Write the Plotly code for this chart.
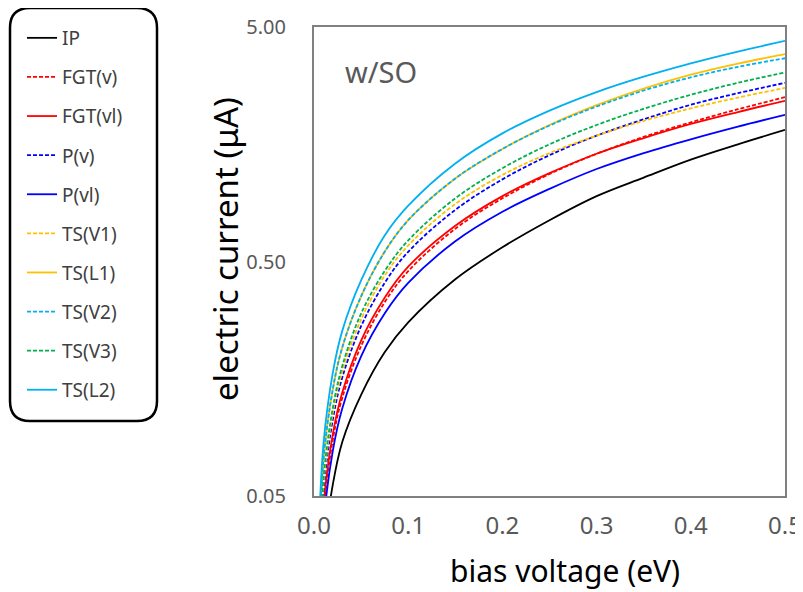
import plotly.graph_objects as go

# bias voltage grid (eV)
V = [0.004, 0.01, 0.02, 0.03, 0.05, 0.075, 0.1, 0.15, 0.2, 0.25, 0.3, 0.35, 0.4, 0.45, 0.5]

# electric current (uA)
IP     = [0.009, 0.028, 0.056, 0.085, 0.135, 0.205, 0.275, 0.42, 0.575, 0.75, 0.95, 1.14, 1.36, 1.58, 1.82]
FGT_v  = [0.013, 0.042, 0.087, 0.131, 0.218, 0.335, 0.455, 0.69, 0.93, 1.18, 1.44, 1.70, 1.96, 2.23, 2.51]
FGT_vl = [0.015, 0.045, 0.092, 0.138, 0.230, 0.350, 0.475, 0.71, 0.95, 1.19, 1.44, 1.68, 1.93, 2.17, 2.42]
P_v    = [0.016, 0.052, 0.106, 0.160, 0.265, 0.405, 0.550, 0.83, 1.12, 1.42, 1.72, 2.02, 2.33, 2.61, 2.89]
P_vl   = [0.012, 0.038, 0.078, 0.118, 0.197, 0.300, 0.405, 0.61, 0.815, 1.02, 1.24, 1.45, 1.66, 1.88, 2.11]
TS_V1  = [0.017, 0.056, 0.113, 0.170, 0.283, 0.435, 0.585, 0.88, 1.17, 1.45, 1.72, 1.99, 2.25, 2.50, 2.75]
TS_L1  = [0.022, 0.071, 0.143, 0.215, 0.355, 0.550, 0.750, 1.13, 1.51, 1.91, 2.32, 2.73, 3.13, 3.49, 3.83]
TS_V2  = [0.022, 0.071, 0.143, 0.215, 0.355, 0.550, 0.750, 1.13, 1.51, 1.90, 2.29, 2.68, 3.05, 3.38, 3.68]
TS_V3  = [0.018, 0.059, 0.119, 0.179, 0.300, 0.455, 0.615, 0.93, 1.25, 1.58, 1.91, 2.24, 2.57, 2.89, 3.20]
TS_L2  = [0.026, 0.083, 0.168, 0.253, 0.415, 0.645, 0.865, 1.31, 1.76, 2.20, 2.64, 3.07, 3.50, 3.93, 4.36]

series = [
    ("IP", IP, "#000000", "solid"),
    ("FGT(v)", FGT_v, "#FF0000", "4px,2px"),
    ("FGT(vl)", FGT_vl, "#FF0000", "solid"),
    ("P(v)", P_v, "#0000FF", "4px,2px"),
    ("P(vl)", P_vl, "#0000FF", "solid"),
    ("TS(V1)", TS_V1, "#FFC000", "4px,2px"),
    ("TS(L1)", TS_L1, "#FFC000", "solid"),
    ("TS(V2)", TS_V2, "#00B0F0", "4px,2px"),
    ("TS(V3)", TS_V3, "#00B050", "4px,2px"),
    ("TS(L2)", TS_L2, "#00B0F0", "solid"),
]

y_ticks = [0.05, 0.5, 5.0]
y_ticktext = ["0.05", "0.50", "5.00"]

FONT = "Noto Sans"

fig = go.Figure()
for i, (name, vals, col, dash) in enumerate(series):
    fig.add_trace(go.Scatter(
        x=V, y=vals, name=name, mode="lines", legendgroup=f"g{i}",
        line=dict(color=col, width=1.8, dash=dash, shape="spline", smoothing=1.0),
    ))

# page body has an 8px default margin: figure is laid out in page pixels minus 8
OFF = 8
W, H = 803 - OFF, 592 - OFF
PL, PR, PT, PB = 314, 785, 27, 496          # plot area in page pixels
L, R, T, B = PL - OFF, W - (PR - OFF), PT - OFF, H - (PB - OFF)
pw, ph = W - L - R, H - T - B

def px(xp):
    return (xp - PL) / pw

def py(yp):
    return (PB - yp) / ph

# rounded legend frame (page pixels)
x0, x1, y0, y1 = px(10), px(157), py(8), py(421)
rx, ry = 20 / pw, 20 / ph
path = (f"M {x0+rx},{y0} L {x1-rx},{y0} Q {x1},{y0} {x1},{y0-ry} "
        f"L {x1},{y1+ry} Q {x1},{y1} {x1-rx},{y1} L {x0+rx},{y1} "
        f"Q {x0},{y1} {x0},{y1+ry} L {x0},{y0-ry} Q {x0},{y0} {x0+rx},{y0} Z")

fig.update_layout(
    width=W, height=H,
    margin=dict(l=L, r=R, t=T, b=B, pad=0, autoexpand=False),
    paper_bgcolor="white", plot_bgcolor="white",
    font=dict(family=FONT, color="#595959"),
    showlegend=True,
    legend=dict(
        x=(22 - OFF) / W, y=1 - (19 - OFF) / H, xref="container", yref="container",
        xanchor="left", yanchor="top",
        font=dict(size=19, color="#404040", family=FONT),
        bgcolor="rgba(0,0,0,0)", borderwidth=0,
        tracegroupgap=11.4, itemwidth=30, maxheight=600,
    ),
    xaxis=dict(
        range=[0, 0.5], dtick=0.1, tickformat=".1f",
        showgrid=False, zeroline=False,
        showline=True, linecolor="#808080", linewidth=2, mirror=True,
        ticks="", tickfont=dict(size=24, color="#595959", family=FONT),
        ticklabelstandoff=7,
    ),
    yaxis=dict(
        type="log", range=[-1.30103, 0.69897],
        tickvals=y_ticks, ticktext=y_ticktext,
        showgrid=False, zeroline=False,
        showline=True, linecolor="#808080", linewidth=2, mirror=True,
        ticks="", tickfont=dict(size=20, color="#595959", family=FONT),
        ticklabelstandoff=22,
    ),
    shapes=[dict(type="path", xref="paper", yref="paper", path=path,
                 line=dict(color="black", width=2.5), fillcolor="rgba(0,0,0,0)")],
    annotations=[
        dict(text="bias voltage (eV)", xref="paper", yref="paper",
             x=px(565), y=py(570), xanchor="center", yanchor="middle", showarrow=False,
             font=dict(size=30, color="black", family=FONT)),
        dict(text="electric current (μA)", xref="paper", yref="paper",
             x=px(225), y=py(249), xanchor="center", yanchor="middle",
             showarrow=False, textangle=-90,
             font=dict(size=33, color="black", family=FONT)),
        dict(text="w/SO", xref="paper", yref="paper",
             x=px(343), y=py(72), xanchor="left", yanchor="middle", showarrow=False,
             font=dict(size=29, color="#595959", family=FONT)),
    ],
)

fig.write_html("out.html")
